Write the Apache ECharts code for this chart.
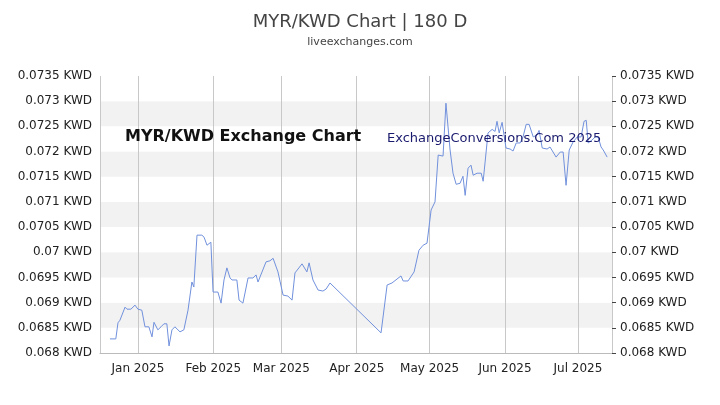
<!DOCTYPE html>
<html>
<head>
<meta charset="utf-8">
<script src="https://cdn.jsdelivr.net/npm/echarts@6/dist/echarts.min.js"></script>
<style>html,body{margin:0;padding:0;background:#fff}#chart{width:720px;height:405px}</style>
</head>
<body>
<div id="chart"></div>
<script>
// days counted from 1 Jan 2025
const dayOffsets = [-11.5,-9.1,-8.2,-7.4,-6.6,-5.3,-4.5,-2.9,-1.2,0,1.6,2.9,4.5,5.8,6.6,8.2,9.5,10.7,11.9,12.8,14,15.2,17.3,18.9,20.6,22.2,23,24.3,26.3,27.2,28.4,30,30.9,32.9,34.2,35.4,36.6,37.9,38.7,40.7,41.6,43.2,45.3,47.3,48.6,49.4,52.7,54.3,55.6,57.6,59.7,61.7,63.4,64.6,65.4,67.5,69.5,70.4,72,74.1,76.1,77.4,79,100,102.5,104.5,108.2,109.1,111.1,113.6,115.6,117.3,118.9,120.6,122.2,123.5,125.5,126.7,128.4,129.6,130.9,132.5,133.7,134.6,135.8,137,137.9,139.5,141.2,142,142.8,143.6,144,145.7,146.9,147.7,148.6,149.8,151.4,153.1,154.3,155.6,157.2,158.4,159.7,160.9,162.6,164.2,165,166.3,168.3,169.5,172,173.7,174.9,176.1,177.4,179,180.7,182.3,183.5,184.4,185.2,186.8,188.1,189.3,190.5,191.4,193];
const rates = [0.06828,0.06828,0.06860,0.06865,0.06867,0.06891,0.06887,0.06887,0.06895,0.06887,0.06885,0.06852,0.06852,0.06832,0.06861,0.06846,0.06852,0.06858,0.06858,0.06814,0.06846,0.06852,0.06842,0.06846,0.06885,0.06941,0.06931,0.07034,0.07034,0.07030,0.07014,0.07020,0.06921,0.06921,0.06899,0.06945,0.06969,0.06949,0.06945,0.06945,0.06905,0.06899,0.06949,0.06949,0.06955,0.06941,0.06981,0.06983,0.06988,0.06961,0.06915,0.06913,0.06905,0.06959,0.06957,0.06977,0.06961,0.06979,0.06945,0.06925,0.06923,0.06927,0.06939,0.06840,0.06935,0.06939,0.06953,0.06943,0.06943,0.06961,0.07004,0.07014,0.07018,0.07084,0.07100,0.07193,0.07191,0.07296,0.07203,0.07157,0.07135,0.07137,0.07151,0.07113,0.07167,0.07173,0.07153,0.07157,0.07157,0.07141,0.07179,0.07177,0.07237,0.07244,0.07240,0.07260,0.07237,0.07258,0.07207,0.07205,0.07201,0.07217,0.07217,0.07229,0.07254,0.07254,0.07229,0.07233,0.07242,0.07207,0.07205,0.07209,0.07189,0.07199,0.07199,0.07133,0.07203,0.07219,0.07229,0.07229,0.07260,0.07262,0.07217,0.07223,0.07229,0.07229,0.07209,0.07203,0.07189];
const yTicks = { min: 0.068, max: 0.0735, step: 0.0005 };

const DAY = 86400000;
const start = Date.UTC(2025, 0, 1);
const points = dayOffsets.map((d, i) => [start + d * DAY, rates[i]]);

const yLabel = v => parseFloat(v.toFixed(4)) + ' KWD';
const yAxisBase = {
  type: 'value', min: yTicks.min, max: yTicks.max, interval: yTicks.step,
  axisLine: { show: false }, splitLine: { show: false },
  axisLabel: { formatter: yLabel, color: '#222', fontSize: 12, fontFamily: 'DejaVu Sans' }
};

const chart = echarts.init(document.getElementById('chart'));
chart.setOption({
  animation: false,
  title: {
    text: 'MYR/KWD Chart | 180 D', subtext: 'liveexchanges.com', left: 'center', top: 8,
    itemGap: 6,
    textStyle: { fontSize: 18, fontWeight: 'normal', color: '#444', fontFamily: 'DejaVu Sans' },
    subtextStyle: { fontSize: 11, color: '#444', fontFamily: 'DejaVu Sans' }
  },
  grid: { left: 100, right: 108, top: 76, bottom: 52 },
  xAxis: {
    type: 'time', min: start - 15.6 * DAY, max: start + 195 * DAY,
    minInterval: 28 * DAY, maxInterval: 31 * DAY,
    axisLine: { lineStyle: { color: '#bbb' } }, axisTick: { show: false },
    splitLine: { show: true, lineStyle: { color: '#c8c8c8' } },
    axisLabel: { formatter: '{MMM} {yyyy}', color: '#222', fontSize: 12, fontFamily: 'DejaVu Sans', margin: 10 }
  },
  yAxis: [
    Object.assign({}, yAxisBase, {
      position: 'left', axisTick: { show: false },
      splitArea: { show: true, areaStyle: { color: ['#ffffff', '#f2f2f2'] } }
    }),
    Object.assign({}, yAxisBase, {
      position: 'right', axisTick: { show: true, length: 4, lineStyle: { color: '#444' } }
    })
  ],
  title: [
    {
      text: 'MYR/KWD Chart | 180 D', subtext: 'liveexchanges.com', left: 'center', top: 8,
      itemGap: 6,
      textStyle: { fontSize: 18, fontWeight: 'normal', color: '#444', fontFamily: 'DejaVu Sans' },
      subtextStyle: { fontSize: 11, color: '#444', fontFamily: 'DejaVu Sans' }
    },
    {
      text: 'MYR/KWD Exchange Chart', left: 120, top: 124,
      textStyle: { fontSize: 16, fontWeight: 'bold', color: '#111', fontFamily: 'Liberation Sans Narrow, DejaVu Sans' }
    },
    {
      text: 'ExchangeConversions.Com 2025', left: 382, top: 127,
      textStyle: { fontSize: 13, fontWeight: 'normal', color: '#1a1a6e', fontFamily: 'Liberation Sans Narrow, DejaVu Sans' }
    }
  ],
  series: [{
    type: 'line', data: points, showSymbol: false, yAxisIndex: 0,
    lineStyle: { color: '#7191dd', width: 1 }
  }]
});
</script>
</body>
</html>
